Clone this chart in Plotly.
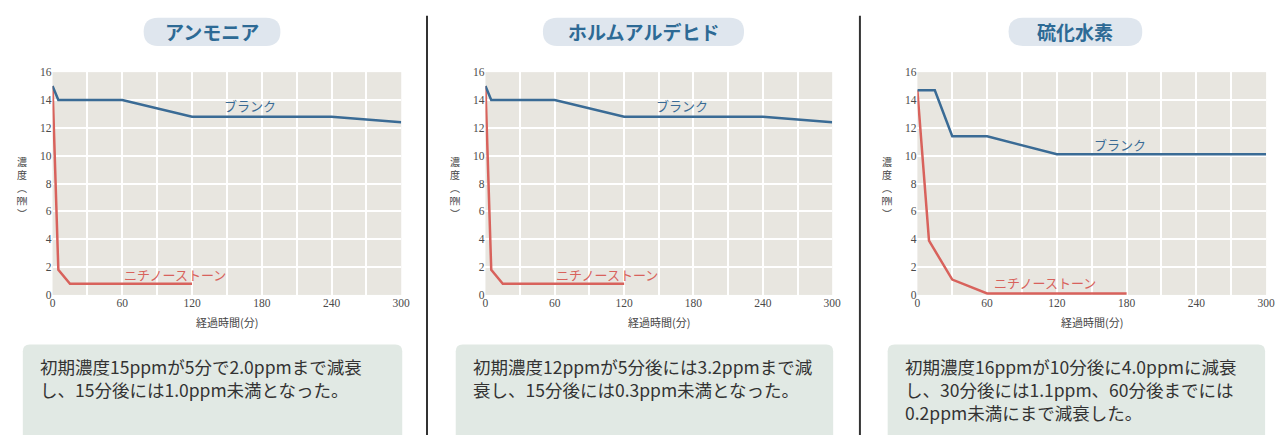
import plotly.graph_objects as go

W, H = 1285, 441

# ---- data ----
titles = ["アンモニア", "ホルムアルデヒド", "硫化水素"]

amm_blank_min = [0, 5, 60, 120, 240, 300]
amm_blank_val = [15.0, 14.0, 14.0, 12.8, 12.8, 12.4]
amm_nichi_min = [0, 5, 15, 120]
amm_nichi_val = [15.0, 1.8, 0.8, 0.8]

form_blank_min = [0, 5, 60, 120, 240, 300]
form_blank_val = [15.0, 14.0, 14.0, 12.8, 12.8, 12.4]
form_nichi_min = [0, 5, 15, 120]
form_nichi_val = [15.0, 1.8, 0.8, 0.8]

h2s_blank_min = [0, 15, 30, 60, 120, 300]
h2s_blank_val = [14.7, 14.7, 11.4, 11.4, 10.1, 10.1]
h2s_nichi_min = [0, 10, 30, 60, 180]
h2s_nichi_val = [14.7, 3.9, 1.1, 0.1, 0.1]

x_ticks = [0, 60, 120, 180, 240, 300]
y_ticks = [0, 2, 4, 6, 8, 10, 12, 14, 16]

blank_label = "ブランク"
nichi_label = "ニチノーストーン"
blank_label_pos = [(170, 13.6), (170, 13.6), (174, 10.8)]
nichi_label_pos = [(105, 1.5), (105, 1.5), (110, 0.9)]

descriptions = [
    "初期濃度15ppmが5分で2.0ppmまで減衰<br>し、15分後には1.0ppm未満となった。",
    "初期濃度12ppmが5分後には3.2ppmまで減<br>衰し、15分後には0.3ppm未満となった。",
    "初期濃度16ppmが10分後に4.0ppmに減衰<br>し、30分後には1.1ppm、60分後までには<br>0.2ppm未満にまで減衰した。",
]

# ---- styles ----
FONT = "Noto Sans CJK JP"
BLUE = "#3a6b95"
RED = "#d8625c"
PLOT_BG = "#e8e6e0"
BOX_BG = "#e1e9e4"
PILL_BG = "#dfe6ee"
TITLE_C = "#2d6a95"
TICK_FONT = dict(family="Liberation Sans Narrow", size=11.5, color="#4a4a4a")

plot_px = [(50, 402), (487, 837), (923, 1275)]
y_top_px, y_bot_px = 68, 297
pill_px = [(142, 280), (545, 748), (1015, 1150)]
box_px = [(20, 403), (457, 838), (893, 1274)]


def px(x):
    return x / W


def py(y):
    return 1 - y / H


def pill(x0, y0, x1, y1, r):
    pts = [
        f"M {px(x0 + r)} {py(y0)}",
        f"L {px(x1 - r)} {py(y0)}",
        f"Q {px(x1)} {py(y0)} {px(x1)} {py(y0 + r)}",
        f"L {px(x1)} {py(y1 - r)}",
        f"Q {px(x1)} {py(y1)} {px(x1 - r)} {py(y1)}",
        f"L {px(x0 + r)} {py(y1)}",
        f"Q {px(x0)} {py(y1)} {px(x0)} {py(y1 - r)}",
        f"L {px(x0)} {py(y0 + r)}",
        f"Q {px(x0)} {py(y0)} {px(x0 + r)} {py(y0)}",
        "Z",
    ]
    return " ".join(pts)


def top_rounded(x0, y0, x1, y1, r):
    pts = [
        f"M {px(x0)} {py(y1)}",
        f"L {px(x0)} {py(y0 + r)}",
        f"Q {px(x0)} {py(y0)} {px(x0 + r)} {py(y0)}",
        f"L {px(x1 - r)} {py(y0)}",
        f"Q {px(x1)} {py(y0)} {px(x1)} {py(y0 + r)}",
        f"L {px(x1)} {py(y1)}",
        "Z",
    ]
    return " ".join(pts)


series = [
    (amm_blank_min, amm_blank_val, amm_nichi_min, amm_nichi_val),
    (form_blank_min, form_blank_val, form_nichi_min, form_nichi_val),
    (h2s_blank_min, h2s_blank_val, h2s_nichi_min, h2s_nichi_val),
]

fig = go.Figure()
shapes = []
annotations = []
layout = {}

for i, (bx, by, nx, ny) in enumerate(series):
    xa = "x" if i == 0 else f"x{i+1}"
    ya = "y" if i == 0 else f"y{i+1}"
    fig.add_trace(go.Scatter(x=nx, y=ny, mode="lines", xaxis=xa, yaxis=ya,
                             line=dict(color=RED, width=2.5), showlegend=False,
                             hoverinfo="skip"))
    fig.add_trace(go.Scatter(x=bx, y=by, mode="lines", xaxis=xa, yaxis=ya,
                             line=dict(color=BLUE, width=2.5), showlegend=False,
                             hoverinfo="skip"))
    xkey = "xaxis" if i == 0 else f"xaxis{i+1}"
    ykey = "yaxis" if i == 0 else f"yaxis{i+1}"
    x0, x1 = plot_px[i]
    layout[xkey] = dict(
        domain=[px(x0), px(x1)], anchor=ya, range=[0, 300],
        tickvals=x_ticks, ticktext=[str(v) for v in x_ticks],
        showgrid=True, gridcolor="white", gridwidth=2,
        minor=dict(dtick=30, showgrid=True, gridcolor="white", gridwidth=2),
        zeroline=False, showline=False, ticks="",
        tickfont=TICK_FONT, fixedrange=True,
    )
    layout[ykey] = dict(
        domain=[py(y_bot_px), py(y_top_px)], anchor=xa, range=[0, 16],
        tickvals=y_ticks, ticktext=[str(v) for v in y_ticks],
        showgrid=True, gridcolor="white", gridwidth=2,
        zeroline=False, showline=False, ticks="",
        tickfont=TICK_FONT, fixedrange=True,
    )
    # series labels
    lx, ly = blank_label_pos[i]
    annotations.append(dict(x=lx, y=ly, xref=xa, yref=ya, text=blank_label,
                            xanchor="center", yanchor="middle",
                            showarrow=False, font=dict(family=FONT, size=13, color=BLUE)))
    lx, ly = nichi_label_pos[i]
    annotations.append(dict(x=lx, y=ly, xref=xa, yref=ya, text=nichi_label,
                            xanchor="center", yanchor="middle",
                            showarrow=False, font=dict(family=FONT, size=13, color=RED)))
    # axis titles
    annotations.append(dict(x=px((x0 + x1) / 2), y=py(325), xref="paper", yref="paper",
                            xanchor="center", yanchor="middle",
                            text="経過時間(分)", showarrow=False,
                            font=dict(family=FONT, size=11, color="#444")))
    annotations.append(dict(x=px(x0 - 31), y=py(187), xref="paper", yref="paper",
                            xanchor="center", yanchor="middle",
                            text="濃<br>度<br>︵<br>㏙<br>︶", showarrow=False,
                            font=dict(family=FONT, size=10, color="#444"),
                            align="center"))
    # title pill
    p0, p1 = pill_px[i]
    shapes.append(dict(type="path", xref="paper", yref="paper",
                       path=pill(p0, 12, p1, 41, 14.5),
                       fillcolor=PILL_BG, line=dict(width=0), layer="below"))
    annotations.append(dict(x=px((p0 + p1) / 2), y=py(26.5), xref="paper", yref="paper",
                            xanchor="center", yanchor="middle",
                            text=f"<b>{titles[i]}</b>", showarrow=False,
                            font=dict(family=FONT, size=19, color=TITLE_C)))
    # description box (runs off the bottom edge)
    b0, b1 = box_px[i]
    shapes.append(dict(type="path", xref="paper", yref="paper",
                       path=top_rounded(b0, 348, b1, H, 7),
                       fillcolor=BOX_BG, line=dict(width=0), layer="below"))
    annotations.append(dict(x=px(b0 + 15), y=py(356), xref="paper", yref="paper",
                            xanchor="left", yanchor="top", align="left",
                            text=descriptions[i], showarrow=False,
                            font=dict(family=FONT, size=17.5, color="#333")))

# separators
for sx in (428, 865):
    shapes.append(dict(type="line", xref="paper", yref="paper",
                       x0=px(sx), x1=px(sx), y0=py(10), y1=py(H),
                       line=dict(color="#333", width=2)))

fig.update_layout(
    width=W, height=H, margin=dict(l=0, r=0, t=0, b=0),
    paper_bgcolor="white", plot_bgcolor=PLOT_BG,
    shapes=shapes, annotations=annotations, showlegend=False,
    **layout,
)

post = (
    "document.documentElement.style.margin='0';"
    "document.documentElement.style.overflow='hidden';"
    "document.body.style.margin='0';"
    "document.body.style.overflow='hidden';"
)

fig.write_html("out.html", config={"displayModeBar": False}, post_script=post)
